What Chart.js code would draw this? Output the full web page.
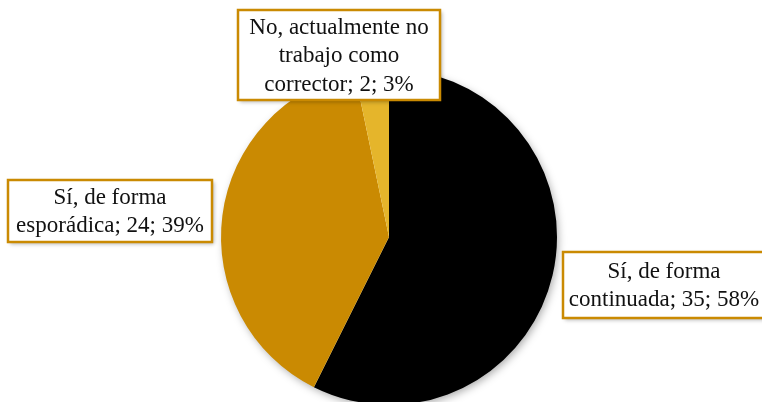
<!DOCTYPE html>
<html>
<head>
<meta charset="utf-8">
<script src="https://cdn.jsdelivr.net/npm/chart.js@4"></script>
<style>
  html, body { margin: 0; padding: 0; background: #fff; overflow: hidden; }
  #wrap { width: 762px; height: 402px; overflow: hidden; }
</style>
</head>
<body>
<div id="wrap"><canvas id="pie" width="762" height="410"></canvas></div>
<script>
// Survey answers, drawn clockwise from 12 o'clock
var categories = ["Sí, de forma continuada", "Sí, de forma esporádica", "No, actualmente no trabajo como corrector"];
var counts = [35, 24, 2];
var percents = [58, 39, 3];
var sliceColors = ["#000000", "#CA8A02", "#E5B52B"];

// Where each data label box sits and how wide its text may wrap
var labelBoxes = [
  { x: 664, y: 285, w: 202, h: 66, wrap: 205 },
  { x: 110, y: 211, w: 204, h: 62, wrap: 205 },
  { x: 339, y: 55, w: 202, h: 90, wrap: 192 }
];

var FONT = '23px "Liberation Serif", "DejaVu Serif", serif';
var BOX_LINE = "#CA8A02";

function wrapText(ctx, text, maxWidth) {
  var words = text.split(" ");
  var lines = [];
  var cur = "";
  for (var i = 0; i < words.length; i++) {
    var test = cur ? cur + " " + words[i] : words[i];
    if (cur && ctx.measureText(test).width > maxWidth) {
      lines.push(cur);
      cur = words[i];
    } else {
      cur = test;
    }
  }
  if (cur) lines.push(cur);
  return lines;
}

// soft shadow behind the whole pie
var pieShadow = {
  id: "pieShadow",
  beforeDatasetsDraw: function (chart) {
    var arc = chart.getDatasetMeta(0).data[0];
    if (!arc) return;
    var ctx = chart.ctx;
    ctx.save();
    ctx.shadowColor = "rgba(0,0,0,0.35)";
    ctx.shadowBlur = 8;
    ctx.shadowOffsetX = 2;
    ctx.shadowOffsetY = 3;
    ctx.fillStyle = "#fff";
    ctx.beginPath();
    ctx.arc(arc.x, arc.y, arc.outerRadius - 1, 0, Math.PI * 2);
    ctx.fill();
    ctx.restore();
  }
};

// boxed data labels: "category; value; percent"
var boxLabels = {
  id: "boxLabels",
  afterDatasetsDraw: function (chart) {
    var ctx = chart.ctx;
    ctx.save();
    ctx.font = FONT;
    for (var i = 0; i < categories.length; i++) {
      var b = labelBoxes[i];
      var left = b.x - b.w / 2, top = b.y - b.h / 2;

      ctx.save();
      ctx.shadowColor = "rgba(0,0,0,0.3)";
      ctx.shadowBlur = 4;
      ctx.shadowOffsetX = 2;
      ctx.shadowOffsetY = 2;
      ctx.fillStyle = "#fff";
      ctx.fillRect(left, top, b.w, b.h);
      ctx.restore();

      ctx.lineWidth = 2.5;
      ctx.strokeStyle = BOX_LINE;
      ctx.strokeRect(left, top, b.w, b.h);

      var text = categories[i] + "; " + counts[i] + "; " + percents[i] + "%";
      var lines = wrapText(ctx, text, b.wrap);
      var lh = 28.5;
      ctx.fillStyle = "#111";
      ctx.textAlign = "center";
      ctx.textBaseline = "middle";
      var y0 = b.y - (lines.length - 1) * lh / 2;
      for (var j = 0; j < lines.length; j++) {
        ctx.fillText(lines[j], b.x, y0 + j * lh + 1);
      }
    }
    ctx.restore();
  }
};

new Chart(document.getElementById("pie"), {
  type: "pie",
  data: {
    labels: categories,
    datasets: [{
      data: counts,
      backgroundColor: sliceColors,
      borderWidth: 0
    }]
  },
  options: {
    responsive: false,
    animation: false,
    layout: { padding: { left: 221, right: 205, top: 69, bottom: 5 } },
    plugins: {
      legend: { display: false },
      tooltip: { enabled: false }
    }
  },
  plugins: [pieShadow, boxLabels]
});
</script>
</body>
</html>
